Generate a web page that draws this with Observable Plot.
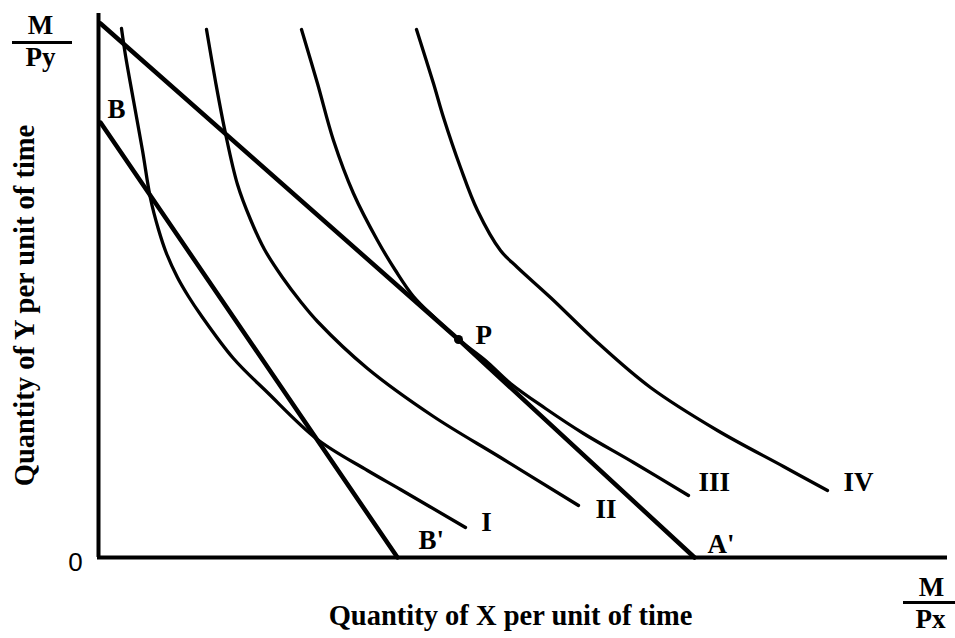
<!DOCTYPE html>
<html>
<head>
<meta charset="utf-8">
<script src="https://cdn.jsdelivr.net/npm/d3@7"></script>
<script src="https://cdn.jsdelivr.net/npm/@observablehq/plot@0.6"></script>
<style>
  html, body { margin: 0; padding: 0; background: #fff; }
  #chart svg { display: block; }
</style>
</head>
<body>
<div id="chart"></div>
<script>
// Indifference curves (x = quantity of X, y = quantity of Y)
const curveI   = [[23,529],[27,502],[35,457],[44,407],[52,359],[60,328],[68,304],[79,280],[90,261],[102,243],[135,199],[169,165],[219,118],[269,87],[302,68],[367,30]];
const curveII  = [[108,528],[117,476],[127,424],[139,373],[152,338],[166,308],[184,280],[202,256],[219,236],[269,189],[335,141],[402,100],[480,52]];
const curveIII = [[203,528],[219,474],[235,417],[255,364],[279,317],[297,287],[315,261],[337,239],[360,218],[387,197],[412,174],[447,149],[485,124],[535,95],[590,62]];
const curveIV  = [[318,528],[335,474],[345,440],[362,390],[379,347],[402,307],[419,290],[452,260],[499,215],[552,170],[619,127],[685,91],[729,67]];

// Budget lines
const budgetA = [[2,534],[360,218],[596,0]];   // M/Py  ->  P  ->  A'
const budgetB = [[2,435],[299,0]];             // B  ->  B'

// Tangency point
const pointP = [[360,218]];

// Axis extents
const xMax = 849;
const yMax = 544;

// Annotation texts
const curveNames  = ["I", "II", "III", "IV"];
const curveNameAt = [[388,27,"middle"],[497,40,"start"],[600,67,"start"],[745,67,"start"]];
const pointNames  = ["B", "B'", "A'", "P"];
const pointNameAt = [[18,440,"middle"],[320,9,"start"],[609,5,"start"],[377,214,"start"]];

const xTitle = "Quantity of X per unit of time";
const yTitle = "Quantity of Y per unit of time";
const fracNum = "M";
const fracDenY = "Py";
const fracDenX = "Px";
const originLabel = "0";

const serif = "'Liberation Serif', 'Times New Roman', Times, serif";

const toXY = (a) => a.map(([x, y]) => ({x, y}));
const curves = [curveI, curveII, curveIII, curveIV];

const curveLabelData = curveNames.map((t, i) => ({text: t, x: curveNameAt[i][0], y: curveNameAt[i][1], anchor: curveNameAt[i][2]}));
const pointLabelData = pointNames.map((t, i) => ({text: t, x: pointNameAt[i][0], y: pointNameAt[i][1], anchor: pointNameAt[i][2]}));
const allLabels = curveLabelData.concat(pointLabelData);

const textStyle = {fontFamily: serif, fontSize: 27, fontWeight: "bold", fill: "black", lineAnchor: "bottom"};
const titleStyle = {...textStyle, fontSize: 28.5};

const chart = Plot.plot({
  width: 955,
  height: 638,
  marginLeft: 98,
  marginRight: 7,
  marginTop: 12,
  marginBottom: 81,
  x: {domain: [0, 850], axis: null},
  y: {domain: [0, 545], axis: null},
  style: {background: "white", overflow: "visible"},
  marks: [
    // axes
    Plot.ruleX([0], {y1: 0, y2: yMax, stroke: "black", strokeWidth: 4}),
    Plot.ruleY([0], {x1: -1, x2: xMax, stroke: "black", strokeWidth: 4}),
    // indifference curves
    ...curves.map(c => Plot.line(toXY(c), {x: "x", y: "y", curve: "catmull-rom", stroke: "black", strokeWidth: 3.3})),
    // budget lines
    Plot.line(toXY(budgetA), {x: "x", y: "y", stroke: "black", strokeWidth: 4.5}),
    Plot.line(toXY(budgetB), {x: "x", y: "y", stroke: "black", strokeWidth: 4.5}),
    // point P
    Plot.dot(toXY(pointP), {x: "x", y: "y", r: 4.5, fill: "black", stroke: "none"}),
    // labels of curves and points
    ...["start", "middle"].map(a => Plot.text(allLabels.filter(d => d.anchor === a), {x: "x", y: "y", text: "text", textAnchor: a, ...textStyle})),
    // fraction M/Py (top left)
    Plot.text([fracNum], {x: -58, y: 524, text: d => d, textAnchor: "middle", ...textStyle}),
    Plot.ruleY([515], {x1: -86, x2: -26, stroke: "black", strokeWidth: 3}),
    Plot.text([fracDenY], {x: -58, y: 492, text: d => d, textAnchor: "middle", ...textStyle}),
    // fraction M/Px (bottom right)
    Plot.text([fracNum], {x: 833, y: -38, text: d => d, textAnchor: "middle", ...textStyle}),
    Plot.ruleY([-45], {x1: 805, x2: 857, stroke: "black", strokeWidth: 3}),
    Plot.text([fracDenX], {x: 832, y: -70, text: d => d, textAnchor: "middle", ...textStyle}),
    // origin
    Plot.text([originLabel], {x: -23, y: -13, text: d => d, textAnchor: "middle", fontFamily: "'Liberation Sans', Arial, sans-serif", fontSize: 26, fill: "black", lineAnchor: "bottom"}),
    // axis titles
    Plot.text([xTitle], {x: 412, y: -67, text: d => d, textAnchor: "middle", ...titleStyle}),
    Plot.text([yTitle], {x: -65, y: 252, text: d => d, textAnchor: "middle", rotate: -90, ...titleStyle})
  ]
});

document.getElementById("chart").appendChild(chart);
</script>
</body>
</html>
